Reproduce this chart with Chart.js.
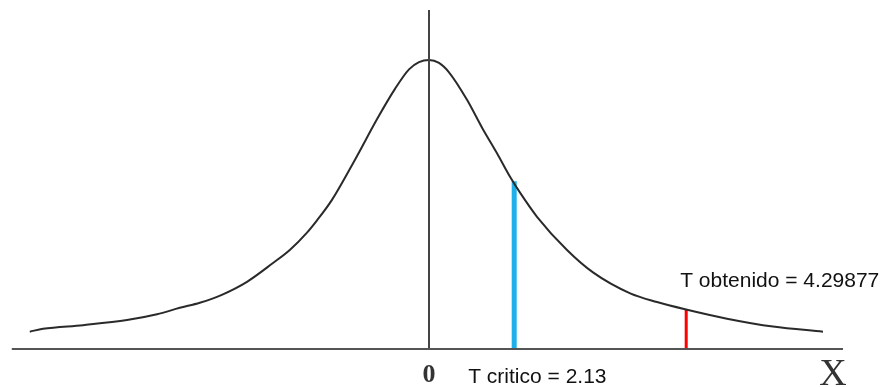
<!DOCTYPE html>
<html>
<head>
<meta charset="utf-8">
<script src="https://cdn.jsdelivr.net/npm/chart.js@4/dist/chart.umd.min.js"></script>
<style>
  body { margin: 0; background: #fff; }
  #wrap { width: 885px; height: 387px; }
</style>
</head>
<body>
<div id="wrap"><canvas id="tChart" width="885" height="387"></canvas></div>
<script>
"use strict";

// curve (x in t units, y as density)
const curveX = [-9.98, -9.65, -8.65, -7.55, -6.8, -6.23, -5.73, -5.18, -4.55, -3.9, -3.48, -3.05, -2.8, -2.43, -1.85, -1.28, -0.85, -0.5, -0.25, 0,
  0.25, 0.5, 0.95, 1.33, 1.7, 2.03, 2.28, 2.7, 3.45, 4.1, 5.03, 5.7, 6.4, 7.45, 8.6, 9.85];
const curveY = [0.024, 0.028, 0.033, 0.040, 0.048, 0.057, 0.064, 0.075, 0.093, 0.119, 0.137, 0.161, 0.178, 0.206, 0.262, 0.320, 0.360, 0.387, 0.397, 0.400,
  0.396, 0.383, 0.345, 0.306, 0.271, 0.238, 0.216, 0.183, 0.137, 0.106, 0.077, 0.065, 0.055, 0.042, 0.031, 0.024];

// marker lines: critical value and obtained value (drawn position in the picture)
const markerNames = ["T critico", "T obtenido"];
const markerValues = ["2.13", "4.29877"];
const markerX = [2.13, 6.43];
const markerTop = [0.232, 0.055];

// axes extents
const axisXRange = [-10.43, 10.35];
const axisYRange = [0, 0.469];

const curvePts = curveX.map((x, i) => ({ x: x, y: curveY[i] }));
const markerLine = (i) => [{ x: markerX[i], y: 0 }, { x: markerX[i], y: markerTop[i] }];

// text labels drawn on the canvas
const labelPlugin = {
  id: "labels",
  afterDatasetsDraw(chart) {
    const ctx = chart.ctx;
    const xs = chart.scales.x;
    const x0 = xs.getPixelForValue(0);
    const xb = xs.getPixelForValue(markerX[0]);
    const xr = xs.getPixelForValue(markerX[1]);
    ctx.save();
    ctx.fillStyle = "#111";
    ctx.textBaseline = "alphabetic";
    ctx.font = "21px 'Liberation Sans', Arial, sans-serif";
    ctx.textAlign = "left";
    ctx.fillText(markerNames[0] + " = " + markerValues[0], xb - 46, 383);
    ctx.fillText(markerNames[1] + " = " + markerValues[1], xr - 6, 287);

    ctx.fillStyle = "#333";
    ctx.textAlign = "center";
    ctx.font = "bold 26px 'Liberation Serif', 'Times New Roman', serif";
    ctx.fillText("0", x0, 382);
    ctx.font = "38px 'Liberation Serif', 'Times New Roman', serif";
    ctx.fillText("X", xs.getPixelForValue(axisXRange[1]) - 10, 385);
    ctx.restore();
  },
};

new Chart(document.getElementById("tChart"), {
  type: "line",
  data: {
    datasets: [
      {
        label: "x axis",
        data: [{ x: axisXRange[0], y: 0 }, { x: axisXRange[1], y: 0 }],
        borderColor: "#555",
        borderWidth: 2,
      },
      {
        label: "y axis",
        data: [{ x: 0, y: axisYRange[0] }, { x: 0, y: axisYRange[1] }],
        borderColor: "#444",
        borderWidth: 2,
      },
      {
        label: "t",
        data: curvePts,
        borderColor: "#2a2a2a",
        borderWidth: 2,
        cubicInterpolationMode: "monotone",
      },
      {
        label: markerNames[0],
        data: markerLine(0),
        borderColor: "#1fb0ea",
        borderWidth: 5,
      },
      {
        label: markerNames[1],
        data: markerLine(1),
        borderColor: "#ff0000",
        borderWidth: 3,
      },
    ],
  },
  options: {
    responsive: false,
    animation: false,
    parsing: false,
    layout: { padding: 0, autoPadding: false },
    elements: { point: { radius: 0 }, line: { fill: false } },
    plugins: { legend: { display: false }, tooltip: { enabled: false } },
    scales: {
      x: { type: "linear", display: false, min: -10.725, max: 11.4 },
      y: { type: "linear", display: false, min: -0.0526, max: 0.483 },
    },
  },
  plugins: [labelPlugin],
});
</script>
</body>
</html>
